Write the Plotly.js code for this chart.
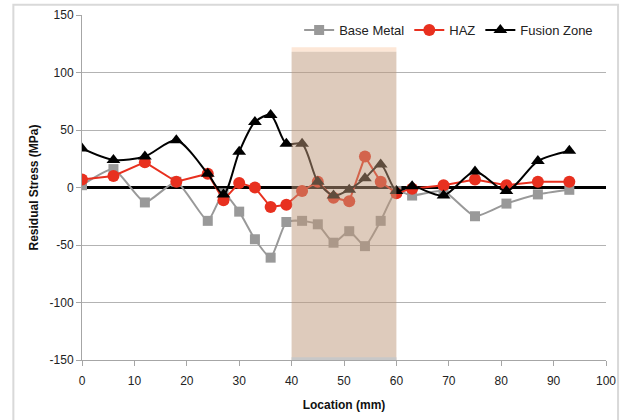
<!DOCTYPE html>
<html>
<head>
<meta charset="utf-8">
<script src="https://cdn.plot.ly/plotly-3.0.1.min.js"></script>
<style>html,body{margin:0;padding:0;background:#fff;}#chart{width:624px;height:420px;}</style>
</head>
<body>
<div id="chart"></div>
<script>
// Data
var location_mm = [0, 6, 12, 18, 24, 27, 30, 33, 36, 39, 42, 45, 48, 51, 54, 57, 60, 63, 69, 75, 81, 87, 93];
var baseMetal   = [2, 16, -13, 5, -29, -5, -21, -45, -61, -30, -29, -32, -48, -38, -51, -29, -3, -7, -3, -25, -14, -6, -2];
var haz         = [7, 10, 22, 5, 12, -11, 4, 0, -17, -15, -3, 5, -9, -12, 27, 5, -5, -1, 2, 7, 2, 5, 5];
var fusionZone  = [34, 24, 27, 41, 12, -6, 31, 57, 63, 38, 38, 5, -7, -2, 8, 20, -3, 1, -7, 14, -3, 23, 32];
var seriesNames = ["Base Metal", "HAZ", "Fusion Zone"];
var weldZone = [40, 60];      // shaded region (mm)
var weldTop = 118;            // top of shaded region (MPa)
var xTicks = [0, 10, 20, 30, 40, 50, 60, 70, 80, 90, 100];
var yTicks = [-150, -100, -50, 0, 50, 100, 150];

var FONT = "Liberation Sans, Arial, sans-serif";

var traces = [
  {x: location_mm, y: baseMetal, name: seriesNames[0], type: "scatter", mode: "lines+markers",
   line: {color: "#999999", width: 2, shape: "spline", smoothing: 0.5},
   marker: {symbol: "square", size: 10, color: "#999999"}},
  {x: location_mm, y: haz, name: seriesNames[1], type: "scatter", mode: "lines+markers",
   line: {color: "#e8301f", width: 2},
   marker: {symbol: "circle", size: 12, color: "#e8301f"}},
  {x: location_mm, y: fusionZone, name: seriesNames[2], type: "scatter", mode: "lines+markers",
   line: {color: "#000000", width: 2, shape: "spline", smoothing: 0.8},
   marker: {symbol: "triangle-up", size: 12, color: "#000000"}}
];

var layout = {
  width: 624, height: 420,
  margin: {l: 82, r: 18, t: 15, b: 60},
  paper_bgcolor: "#ffffff", plot_bgcolor: "#ffffff",
  font: {family: FONT, size: 12, color: "#222222"},
  showlegend: true,
  legend: {orientation: "h", x: 0.985, xanchor: "right", y: 1, yanchor: "top",
           bgcolor: "rgba(0,0,0,0)", font: {family: FONT, size: 13, color: "#222"},
           itemwidth: 30, tracegroupgap: 0},
  xaxis: {range: [0, 100], tickvals: xTicks, ticktext: xTicks.map(String),
          showgrid: false, zeroline: false, showline: true, linecolor: "#a6a6a6", linewidth: 1,
          ticks: "outside", ticklen: 5, tickcolor: "#a6a6a6", ticklabelstandoff: 5,
          tickfont: {family: FONT, size: 12, color: "#222"},
          title: {text: "<b>Location (mm)</b>", font: {family: FONT, size: 12, color: "#111"}, standoff: 13}},
  yaxis: {range: [-150, 150], tickvals: yTicks, ticktext: yTicks.map(String),
          showgrid: true, gridcolor: "#b3b3b3", gridwidth: 1,
          zeroline: true, zerolinecolor: "#000000", zerolinewidth: 3,
          showline: true, linecolor: "#a6a6a6", linewidth: 1,
          ticks: "outside", ticklen: 5, tickcolor: "#a6a6a6",
          tickfont: {family: FONT, size: 12, color: "#222"},
          title: {text: "<b>Residual Stress (MPa)</b>", font: {family: FONT, size: 12, color: "#111"}, standoff: 8}},
  shapes: [
    {type: "rect", xref: "x", yref: "y", x0: weldZone[0], x1: weldZone[1], y0: weldTop, y1: weldTop + 4,
     fillcolor: "#fde7d7", line: {width: 0}, layer: "above"},
    {type: "rect", xref: "x", yref: "y", x0: weldZone[0], x1: weldZone[1], y0: -150, y1: weldTop,
     fillcolor: "rgba(189,151,121,0.5)", line: {width: 0}, layer: "above"},
    {type: "rect", xref: "x", yref: "y", x0: weldZone[0], x1: weldZone[1], y0: -150, y1: -147.5,
     fillcolor: "#c8c8c8", line: {width: 0}, layer: "above"},
    {type: "rect", xref: "paper", yref: "paper", x0: -0.131, x1: 1.023, y0: -0.19, y1: 1.03,
     fillcolor: "rgba(0,0,0,0)", line: {color: "#d9d9d9", width: 2}, layer: "below"}
  ]
};

Plotly.newPlot("chart", traces, layout, {displayModeBar: false, staticPlot: true});
</script>
</body>
</html>
